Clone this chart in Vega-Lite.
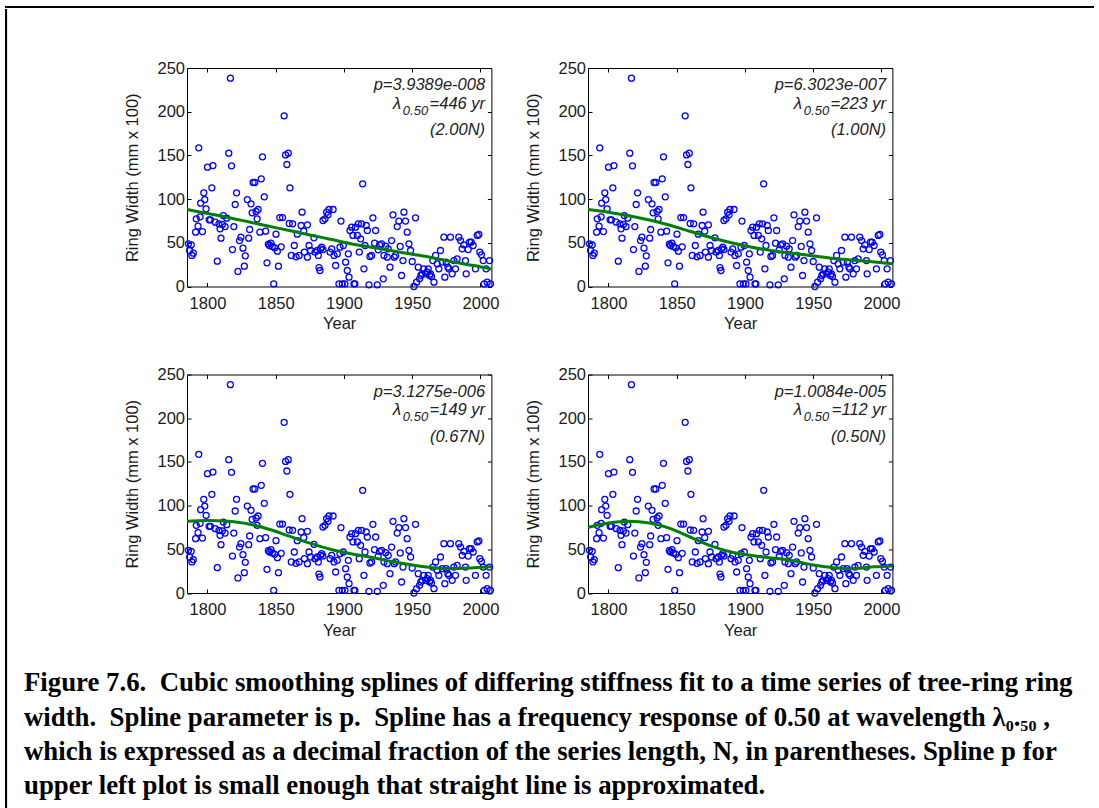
{
  "$schema": "https://vega.github.io/schema/vega-lite/v6.json",
  "padding": {"left": 5, "top": 6, "right": 0, "bottom": 0},
  "background": "white",
  "config": {
    "font": "Liberation Sans",
    "view": {"stroke": null},
    "axis": {"labelFontSize": 16.5, "titleFontSize": 16.5, "labelColor": "#1a1a1a", "titleColor": "#1a1a1a", "titleFontWeight": "normal", "tickColor": "#000", "domain": false, "grid": false, "labelFont": "Liberation Sans", "titleFont": "Liberation Sans"}
  },
  "datasets": {
    "pts": [
      {"year":1786.1,"width":48.8},{"year":1788.1,"width":47.7},{"year":1786.9,"width":41.2},{"year":1788.6,"width":35.5},{"year":1789.6,"width":38.1},
      {"year":1791.3,"width":62.2},{"year":1791.8,"width":77.4},{"year":1793.1,"width":69.0},{"year":1793.6,"width":158.7},{"year":1794.6,"width":79.7},
      {"year":1795.0,"width":95.3},{"year":1796.3,"width":62.9},{"year":1797.3,"width":107.2},{"year":1798.0,"width":99.5},{"year":1799.0,"width":88.9},
      {"year":1800.0,"width":136.5},{"year":1801.2,"width":76.3},{"year":1802.2,"width":76.3},{"year":1803.2,"width":112.9},{"year":1804.0,"width":138.4},
      {"year":1805.7,"width":73.6},{"year":1807.2,"width":29.0},{"year":1808.4,"width":71.7},{"year":1809.2,"width":66.0},{"year":1809.9,"width":55.3},
      {"year":1810.9,"width":71.0},{"year":1811.6,"width":81.2},{"year":1812.9,"width":68.6},{"year":1814.1,"width":78.2},{"year":1815.6,"width":152.6},
      {"year":1816.8,"width":238.4},{"year":1817.6,"width":138.1},{"year":1818.3,"width":42.3},{"year":1819.3,"width":68.6},{"year":1820.3,"width":93.8},
      {"year":1821.3,"width":107.2},{"year":1822.3,"width":17.2},{"year":1823.5,"width":52.6},{"year":1824.5,"width":56.4},{"year":1826.0,"width":43.9},
      {"year":1827.0,"width":23.3},{"year":1827.7,"width":35.1},{"year":1829.2,"width":99.5},{"year":1830.2,"width":55.3},{"year":1830.9,"width":65.2},
      {"year":1831.9,"width":94.6},{"year":1832.7,"width":84.3},{"year":1833.4,"width":119.0},{"year":1834.7,"width":119.0},{"year":1835.6,"width":85.8},
      {"year":1836.4,"width":77.4},{"year":1837.1,"width":88.1},{"year":1838.4,"width":62.2},{"year":1839.4,"width":123.2},{"year":1840.3,"width":148.4},
      {"year":1841.6,"width":102.6},{"year":1842.6,"width":63.3},{"year":1843.6,"width":27.1},{"year":1844.6,"width":48.4},{"year":1845.5,"width":46.9},
      {"year":1846.5,"width":49.6},{"year":1847.5,"width":45.8},{"year":1848.5,"width":3.1},{"year":1849.3,"width":44.2},{"year":1850.2,"width":59.9},
      {"year":1851.2,"width":40.4},{"year":1852.0,"width":23.3},{"year":1853.0,"width":78.9},{"year":1854.0,"width":45.4},{"year":1855.0,"width":78.9},
      {"year":1856.2,"width":195.3},{"year":1857.2,"width":150.6},{"year":1858.2,"width":139.6},{"year":1859.2,"width":152.6},{"year":1860.4,"width":112.9},
      {"year":1859.9,"width":72.1},{"year":1861.4,"width":35.5},{"year":1862.4,"width":71.7},{"year":1863.6,"width":46.9},{"year":1864.9,"width":33.9},
      {"year":1865.8,"width":59.9},{"year":1867.1,"width":35.5},{"year":1868.6,"width":69.8},{"year":1869.3,"width":85.0},{"year":1870.5,"width":63.3},
      {"year":1871.0,"width":39.3},{"year":1873.2,"width":70.6},{"year":1874.4,"width":46.9},{"year":1873.2,"width":33.6},{"year":1875.6,"width":41.2},
      {"year":1878.0,"width":55.7},{"year":1878.8,"width":39.3},{"year":1880.5,"width":41.2},{"year":1881.2,"width":35.5},{"year":1882.4,"width":18.3},
      {"year":1881.7,"width":21.7},{"year":1882.9,"width":43.1},{"year":1883.7,"width":45.0},{"year":1884.6,"width":42.3},{"year":1884.6,"width":75.5},
      {"year":1886.1,"width":77.4},{"year":1887.3,"width":85.0},{"year":1888.3,"width":82.0},{"year":1889.0,"width":88.1},{"year":1889.8,"width":39.3},
      {"year":1891.0,"width":43.1},{"year":1892.0,"width":88.1},{"year":1892.7,"width":35.5},{"year":1893.9,"width":24.0},{"year":1895.1,"width":37.4},
      {"year":1896.3,"width":3.1},{"year":1897.1,"width":45.0},{"year":1897.8,"width":74.8},{"year":1898.8,"width":3.1},{"year":1899.5,"width":46.9},
      {"year":1900.7,"width":3.1},{"year":1901.2,"width":27.8},{"year":1902.4,"width":18.3},{"year":1903.2,"width":37.4},{"year":1903.7,"width":10.7},
      {"year":1904.4,"width":64.1},{"year":1905.6,"width":67.9},{"year":1906.6,"width":58.4},{"year":1907.3,"width":3.1},{"year":1908.0,"width":3.1},
      {"year":1908.5,"width":67.9},{"year":1909.8,"width":58.4},{"year":1910.5,"width":71.7},{"year":1911.2,"width":39.3},{"year":1912.2,"width":54.5},
      {"year":1912.9,"width":71.7},{"year":1913.7,"width":117.5},{"year":1914.6,"width":20.2},{"year":1915.4,"width":46.9},{"year":1916.3,"width":69.8},
      {"year":1917.1,"width":64.1},{"year":1918.3,"width":1.9},{"year":1919.0,"width":34.3},{"year":1920.2,"width":35.5},{"year":1921.2,"width":78.6},
      {"year":1922.4,"width":49.6},{"year":1923.2,"width":64.1},{"year":1924.4,"width":1.9},{"year":1925.1,"width":42.0},{"year":1926.1,"width":47.7},
      {"year":1927.6,"width":48.8},{"year":1928.8,"width":8.8},{"year":1929.3,"width":35.5},{"year":1930.5,"width":46.1},{"year":1931.7,"width":33.6},
      {"year":1932.4,"width":43.1},{"year":1933.7,"width":22.1},{"year":1934.9,"width":52.6},{"year":1935.9,"width":82.0},{"year":1936.8,"width":33.6},
      {"year":1937.8,"width":35.5},{"year":1939.0,"width":68.6},{"year":1940.2,"width":74.8},{"year":1941.2,"width":45.8},{"year":1942.2,"width":12.6},
      {"year":1943.2,"width":29.7},{"year":1943.9,"width":85.0},{"year":1945.1,"width":74.8},{"year":1946.3,"width":62.2},{"year":1947.6,"width":48.8},
      {"year":1948.8,"width":41.2},{"year":1950.0,"width":28.6},{"year":1951.2,"width":0.0},{"year":1952.4,"width":78.6},{"year":1953.2,"width":5.0},
      {"year":1954.4,"width":22.1},{"year":1955.4,"width":8.8},{"year":1956.3,"width":12.6},{"year":1957.3,"width":14.5},{"year":1958.5,"width":20.2},
      {"year":1959.8,"width":14.5},{"year":1961.0,"width":16.4},{"year":1961.7,"width":20.2},{"year":1962.7,"width":12.6},{"year":1963.4,"width":14.5},
      {"year":1964.1,"width":11.4},{"year":1965.1,"width":29.7},{"year":1965.9,"width":5.0},{"year":1967.1,"width":35.5},{"year":1968.3,"width":25.9},
      {"year":1969.5,"width":20.2},{"year":1970.7,"width":41.2},{"year":1972.0,"width":27.8},{"year":1973.2,"width":56.4},{"year":1973.9,"width":10.7},
      {"year":1974.9,"width":27.8},{"year":1976.1,"width":22.1},{"year":1976.8,"width":20.2},{"year":1978.0,"width":56.4},{"year":1979.3,"width":14.5},
      {"year":1980.5,"width":29.7},{"year":1981.7,"width":20.2},{"year":1982.9,"width":31.7},{"year":1984.1,"width":56.4},{"year":1985.4,"width":52.6},
      {"year":1986.6,"width":43.1},{"year":1987.8,"width":47.7},{"year":1989.0,"width":29.7},{"year":1989.5,"width":14.5},{"year":1991.0,"width":42.3},
      {"year":1992.0,"width":50.7},{"year":1993.2,"width":50.7},{"year":1994.6,"width":46.9},{"year":1996.3,"width":20.2},{"year":1997.6,"width":58.4},
      {"year":1998.8,"width":59.5},{"year":1999.5,"width":39.3},{"year":2000.7,"width":36.2},{"year":2002.0,"width":29.7},{"year":2002.7,"width":3.1},
      {"year":2004.1,"width":20.2},{"year":2004.9,"width":5.0},{"year":2006.6,"width":29.7},{"year":2007.3,"width":3.1}
    ],
    "curves": [
      {"year":1785,"s1":88,"s2":88,"s3":82,"s4":75},
      {"year":1800,"s1":83.5,"s2":85,"s3":83,"s4":80},
      {"year":1815,"s1":79,"s2":81,"s3":82,"s4":82},
      {"year":1830,"s1":74,"s2":76,"s3":79,"s4":80},
      {"year":1845,"s1":69,"s2":70,"s3":73,"s4":74},
      {"year":1860,"s1":64,"s2":63,"s3":65,"s4":64},
      {"year":1875,"s1":59,"s2":56,"s3":57,"s4":54},
      {"year":1890,"s1":54,"s2":50,"s3":50,"s4":47},
      {"year":1905,"s1":49,"s2":45,"s3":45,"s4":43},
      {"year":1920,"s1":45,"s2":41,"s3":41,"s4":40},
      {"year":1935,"s1":41,"s2":38,"s3":36,"s4":37},
      {"year":1950,"s1":37,"s2":35,"s3":32,"s4":32},
      {"year":1965,"s1":33,"s2":32,"s3":29,"s4":29},
      {"year":1980,"s1":28,"s2":30,"s3":28,"s4":28},
      {"year":1995,"s1":24,"s2":28,"s3":29,"s4":30},
      {"year":2008,"s1":20,"s2":26,"s3":30,"s4":31}
    ],
    "ann": [
      {"line":"p","s1":"p=3.9389e-008","s2":"p=6.3023e-007","s3":"p=3.1275e-006","s4":"p=1.0084e-005"},
      {"line":"lam","s1":"=446 yr","s2":"=223 yr","s3":"=149 yr","s4":"=112 yr"},
      {"line":"frac","s1":"(2.00N)","s2":"(1.00N)","s3":"(0.67N)","s4":"(0.50N)"}
    ]
  },
  "spacing": 0,
  "vconcat": [
    {
      "width": 1087, "height": 0.1,
      "data": {"values": []},
      "mark": {"type": "rule"},
      "encoding": {},
      "view": {"stroke": "#000", "strokeWidth": 2}
    },
    {
      "spacing": 16,
      "hconcat": [
        {
          "width": 0.1, "height": 800,
          "data": {"values": []},
          "mark": {"type": "rule"},
          "encoding": {},
          "view": {"stroke": "#000", "strokeWidth": 2}
        },
        {
          "spacing": 31,
          "vconcat": [
            {
              "width": 1, "height": 17.5,
              "data": {"values": []},
              "mark": {"type": "rule"},
              "encoding": {},
              "view": {"stroke": null}
            },
            {
              "repeat": ["s1", "s2", "s3", "s4"],
              "columns": 2,
              "spacing": {"row": 87.5, "column": 96},
              "bounds": "flush",
              "spec": {
                "width": 304.4,
                "height": 218.5,
                "view": {"stroke": "#000", "strokeWidth": 1},
                "resolve": {"axis": {"x": "independent", "y": "independent"}},
                "layer": [
                  {
                    "data": {"name": "pts"},
                    "mark": {"type": "point", "shape": "circle", "filled": false, "color": "#0000ff", "size": 36, "strokeWidth": 1.3, "opacity": 1},
                    "encoding": {
                      "x": {"field": "year", "type": "quantitative", "scale": {"domain": [1785, 2008], "nice": false, "zero": false},
                            "axis": {"orient": "bottom", "values": [1800, 1850, 1900, 1950, 2000], "format": "d", "title": "Year", "tickSize": -4, "labelPadding": 12.5, "titlePadding": 4}},
                      "y": {"field": "width", "type": "quantitative", "scale": {"domain": [0, 250], "nice": false, "zero": true},
                            "axis": {"orient": "left", "values": [0, 50, 100, 150, 200, 250], "title": "Ring Width (mm x 100)", "tickSize": -4, "labelPadding": 6.5, "titlePadding": 16.5}}
                    }
                  },
                  {
                    "data": {"name": "curves"},
                    "mark": {"type": "line", "color": "#008000", "strokeWidth": 3, "interpolate": "monotone"},
                    "encoding": {
                      "x": {"field": "year", "type": "quantitative",
                            "axis": {"orient": "top", "values": [1800, 1850, 1900, 1950, 2000], "labels": false, "title": null, "tickSize": -4}},
                      "y": {"field": {"repeat": "repeat"}, "type": "quantitative",
                            "axis": {"orient": "right", "values": [0, 50, 100, 150, 200, 250], "labels": false, "title": null, "tickSize": -4}}
                    }
                  },
                  {
                    "data": {"name": "ann"},
                    "transform": [{"filter": "datum.line === 'p'"}],
                    "mark": {"type": "text", "align": "right", "baseline": "alphabetic", "fontStyle": "italic", "fontSize": 16.5, "color": "#222"},
                    "encoding": {
                      "x": {"datum": 2003.4, "type": "quantitative", "axis": null},
                      "y": {"datum": 224.3, "type": "quantitative", "axis": null},
                      "text": {"field": {"repeat": "repeat"}, "type": "nominal"}
                    }
                  },
                  {
                    "data": {"name": "ann"},
                    "transform": [{"filter": "datum.line === 'lam'"}],
                    "mark": {"type": "text", "align": "right", "baseline": "alphabetic", "fontStyle": "italic", "fontSize": 16.5, "color": "#222"},
                    "encoding": {
                      "x": {"datum": 2003.4, "type": "quantitative", "axis": null},
                      "y": {"datum": 203.3, "type": "quantitative", "axis": null},
                      "text": {"field": {"repeat": "repeat"}, "type": "nominal"}
                    }
                  },
                  {
                    "data": {"name": "ann"},
                    "transform": [{"filter": "datum.line === 'lam'"}],
                    "mark": {"type": "text", "align": "right", "baseline": "alphabetic", "fontStyle": "italic", "fontSize": 13, "color": "#222", "dx": -57, "dy": 6},
                    "encoding": {
                      "x": {"datum": 2003.4, "type": "quantitative", "axis": null},
                      "y": {"datum": 203.3, "type": "quantitative", "axis": null},
                      "text": {"value": "0.50"}
                    }
                  },
                  {
                    "data": {"name": "ann"},
                    "transform": [{"filter": "datum.line === 'lam'"}],
                    "mark": {"type": "text", "align": "right", "baseline": "alphabetic", "fontStyle": "italic", "fontSize": 17, "color": "#222", "dx": -84},
                    "encoding": {
                      "x": {"datum": 2003.4, "type": "quantitative", "axis": null},
                      "y": {"datum": 203.3, "type": "quantitative", "axis": null},
                      "text": {"value": "λ"}
                    }
                  },
                  {
                    "data": {"name": "ann"},
                    "transform": [{"filter": "datum.line === 'frac'"}],
                    "mark": {"type": "text", "align": "right", "baseline": "alphabetic", "fontStyle": "italic", "fontSize": 16.5, "color": "#222"},
                    "encoding": {
                      "x": {"datum": 2003.4, "type": "quantitative", "axis": null},
                      "y": {"datum": 172.8, "type": "quantitative", "axis": null},
                      "text": {"field": {"repeat": "repeat"}, "type": "nominal"}
                    }
                  }
                ]
              }
            },
            {
              "width": 915, "height": 0.1,
              "data": {"values": []},
              "mark": {"type": "rule"},
              "encoding": {},
              "view": {"stroke": null},
              "title": {
                "text": [
                  "Figure 7.6.\u00a0 Cubic smoothing splines of differing stiffness fit to a time series of tree-ring ring",
                  "width.\u00a0 Spline parameter is p.\u00a0 Spline has a frequency response of 0.50 at wavelength λ₀.₅₀ ,",
                  "which is expressed as a decimal fraction of the series length, N, in parentheses. Spline p for",
                  "upper left plot is small enough that straight line is approximated."
                ],
                "orient": "top", "anchor": "start", "frame": "group", "dx": -163,
                "font": "Liberation Serif", "fontSize": 26.8, "fontWeight": "bold", "lineHeight": 34.3, "color": "#000", "offset": 0
              }
            }
          ]
        },
        {
          "width": 0.1, "height": 800,
          "data": {"values": []},
          "mark": {"type": "rule"},
          "encoding": {},
          "view": {"stroke": "#000", "strokeWidth": 2}
        }
      ]
    }
  ]
}
